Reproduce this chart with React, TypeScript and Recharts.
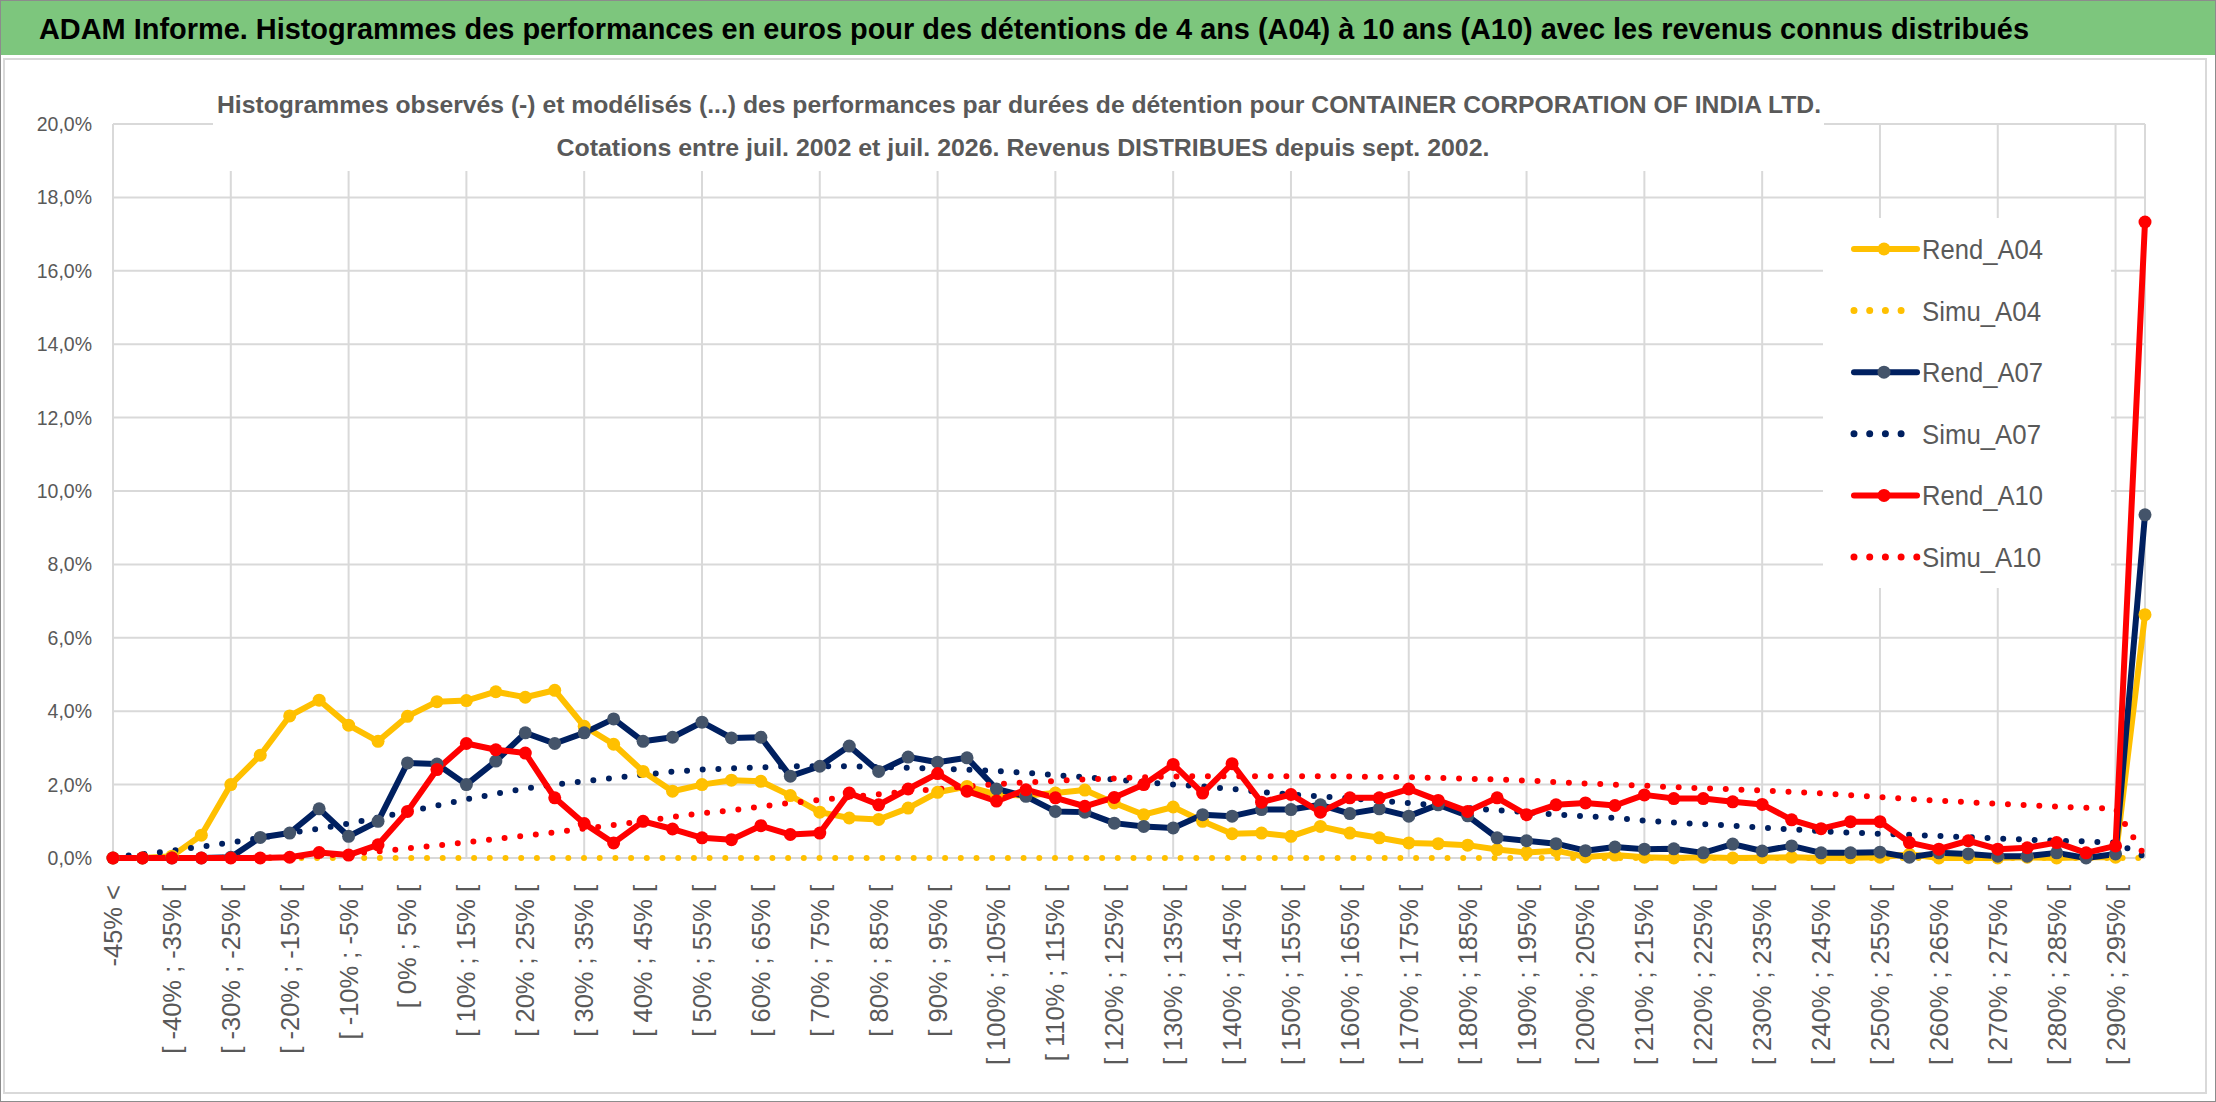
import React from 'react'
import { LineChart, Line, XAxis, YAxis, CartesianGrid } from 'recharts'

// bins of 5% from -45% to 295%, plus the two open-ended classes
const categories = [
  '-45% <', '[ -45% ; -40% [', '[ -40% ; -35% [', '[ -35% ; -30% [', '[ -30% ; -25% [',
  '[ -25% ; -20% [', '[ -20% ; -15% [', '[ -15% ; -10% [', '[ -10% ; -5% [', '[ -5% ; 0% [',
  '[ 0% ; 5% [', '[ 5% ; 10% [', '[ 10% ; 15% [', '[ 15% ; 20% [', '[ 20% ; 25% [',
  '[ 25% ; 30% [', '[ 30% ; 35% [', '[ 35% ; 40% [', '[ 40% ; 45% [', '[ 45% ; 50% [',
  '[ 50% ; 55% [', '[ 55% ; 60% [', '[ 60% ; 65% [', '[ 65% ; 70% [', '[ 70% ; 75% [',
  '[ 75% ; 80% [', '[ 80% ; 85% [', '[ 85% ; 90% [', '[ 90% ; 95% [', '[ 95% ; 100% [',
  '[ 100% ; 105% [', '[ 105% ; 110% [', '[ 110% ; 115% [', '[ 115% ; 120% [', '[ 120% ; 125% [',
  '[ 125% ; 130% [', '[ 130% ; 135% [', '[ 135% ; 140% [', '[ 140% ; 145% [', '[ 145% ; 150% [',
  '[ 150% ; 155% [', '[ 155% ; 160% [', '[ 160% ; 165% [', '[ 165% ; 170% [', '[ 170% ; 175% [',
  '[ 175% ; 180% [', '[ 180% ; 185% [', '[ 185% ; 190% [', '[ 190% ; 195% [', '[ 195% ; 200% [',
  '[ 200% ; 205% [', '[ 205% ; 210% [', '[ 210% ; 215% [', '[ 215% ; 220% [', '[ 220% ; 225% [',
  '[ 225% ; 230% [', '[ 230% ; 235% [', '[ 235% ; 240% [', '[ 240% ; 245% [', '[ 245% ; 250% [',
  '[ 250% ; 255% [', '[ 255% ; 260% [', '[ 260% ; 265% [', '[ 265% ; 270% [', '[ 270% ; 275% [',
  '[ 275% ; 280% [', '[ 280% ; 285% [', '[ 285% ; 290% [', '[ 290% ; 295% [', '> 295%',
]

// values in %
const rendA04 = [
  0, 0, 0.05, 0.62, 2.0, 2.8, 3.87, 4.3, 3.62, 3.18,
  3.86, 4.26, 4.29, 4.53, 4.38, 4.57, 3.59, 3.1, 2.36, 1.82,
  2.0, 2.12, 2.09, 1.7, 1.25, 1.09, 1.05, 1.36, 1.79, 1.95,
  1.73, 1.7, 1.77, 1.85, 1.5, 1.18, 1.39, 1.0, 0.66, 0.68,
  0.59, 0.86, 0.68, 0.55, 0.41, 0.39, 0.35, 0.23, 0.15, 0.2,
  0.03, 0.08, 0.02, 0, 0.02, 0, 0.01, 0.02, 0, 0.01,
  0.02, 0.1, 0, 0.01, 0, 0.02, 0, 0.02, 0.02, 6.63,
]
const simuA04 = [
  0, 0, 0, 0, 0, 0, 0, 0, 0, 0,
  0, 0, 0, 0, 0, 0, 0, 0, 0, 0,
  0, 0, 0, 0, 0, 0, 0, 0, 0, 0,
  0, 0, 0, 0, 0, 0, 0, 0, 0, 0,
  0, 0, 0, 0, 0, 0, 0, 0, 0, 0,
  0, 0, 0, 0, 0, 0, 0, 0, 0, 0,
  0, 0, 0, 0, 0, 0, 0, 0, 0, 0,
]
const rendA07 = [
  0, 0, 0, 0, 0.02, 0.56, 0.68, 1.34, 0.59, 1.0,
  2.59, 2.56, 2.0, 2.64, 3.41, 3.12, 3.41, 3.79, 3.18, 3.29,
  3.7, 3.27, 3.29, 2.23, 2.5, 3.05, 2.36, 2.75, 2.61, 2.73,
  1.88, 1.68, 1.27, 1.25, 0.95, 0.86, 0.82, 1.18, 1.14, 1.32,
  1.32, 1.45, 1.21, 1.34, 1.14, 1.45, 1.15, 0.55, 0.47, 0.39,
  0.2, 0.3, 0.24, 0.25, 0.14, 0.38, 0.19, 0.33, 0.14, 0.14,
  0.16, 0.02, 0.14, 0.11, 0.05, 0.05, 0.14, 0, 0.11, 9.35,
]
const simuA07 = [
  0.03, 0.1, 0.2, 0.31, 0.42, 0.55, 0.68, 0.8, 0.94, 1.1,
  1.26, 1.43, 1.6, 1.75, 1.89, 2.0, 2.09, 2.18, 2.27, 2.35,
  2.41, 2.44, 2.47, 2.5, 2.5, 2.5, 2.48, 2.46, 2.43, 2.41,
  2.37, 2.32, 2.26, 2.2, 2.14, 2.07, 2.0, 1.95, 1.88, 1.8,
  1.73, 1.68, 1.63, 1.56, 1.5, 1.43, 1.36, 1.3, 1.25, 1.18,
  1.14, 1.09, 1.02, 0.97, 0.92, 0.88, 0.83, 0.78, 0.73, 0.69,
  0.66, 0.63, 0.6, 0.57, 0.53, 0.5, 0.47, 0.45, 0.42, 0.03,
]
const rendA10 = [
  0, 0, 0, 0, 0, 0, 0.02, 0.15, 0.08, 0.36,
  1.27, 2.41, 3.12, 2.95, 2.86, 1.64, 0.94, 0.41, 1.0, 0.79,
  0.55, 0.5, 0.88, 0.64, 0.68, 1.77, 1.45, 1.88, 2.3, 1.82,
  1.55, 1.86, 1.64, 1.41, 1.65, 2.0, 2.55, 1.77, 2.57, 1.52,
  1.73, 1.25, 1.64, 1.64, 1.88, 1.57, 1.27, 1.64, 1.18, 1.45,
  1.5, 1.43, 1.72, 1.62, 1.62, 1.53, 1.46, 1.04, 0.8, 0.99,
  0.99, 0.42, 0.24, 0.47, 0.24, 0.28, 0.42, 0.14, 0.33, 17.33,
]
const simuA10 = [
  0, 0, 0, 0, 0.01, 0.01, 0.03, 0.06, 0.11, 0.18,
  0.26, 0.34, 0.43, 0.52, 0.61, 0.7, 0.8, 0.9, 1.0, 1.12,
  1.22, 1.3, 1.4, 1.5, 1.58, 1.66, 1.74, 1.81, 1.88, 1.95,
  2.01, 2.06, 2.1, 2.14, 2.17, 2.2, 2.22, 2.23, 2.23, 2.23,
  2.23, 2.23, 2.22, 2.21, 2.2, 2.18, 2.16, 2.14, 2.11, 2.07,
  2.03, 2.0, 1.97, 1.93, 1.9, 1.87, 1.84, 1.8, 1.76, 1.71,
  1.66, 1.61, 1.56, 1.52, 1.48, 1.44, 1.4, 1.37, 1.34, 0.05,
]

const yTicks = [0, 2, 4, 6, 8, 10, 12, 14, 16, 18, 20]

const title =
  'ADAM Informe. Histogrammes des performances en euros pour des détentions de 4 ans (A04) à 10 ans (A10) avec les revenus connus distribués'
const subtitle1 =
  'Histogrammes observés (-) et modélisés (...) des performances par durées de détention pour CONTAINER CORPORATION OF INDIA LTD.'
const subtitle2 = 'Cotations entre juil. 2002 et juil. 2026. Revenus DISTRIBUES depuis sept. 2002.'

const YELLOW = '#FFC000'
const NAVY = '#002060'
const NAVY_DOT = '#44546A'
const RED = '#FF0000'
const GREY = '#595959'
const SANS = '"Liberation Sans", Arial, sans-serif'

const series = [
  { key: 'Rend_A04', color: YELLOW, marker: YELLOW, dotted: false },
  { key: 'Simu_A04', color: YELLOW, marker: YELLOW, dotted: true },
  { key: 'Rend_A07', color: NAVY, marker: NAVY_DOT, dotted: false },
  { key: 'Simu_A07', color: NAVY, marker: NAVY_DOT, dotted: true },
  { key: 'Rend_A10', color: RED, marker: RED, dotted: false },
  { key: 'Simu_A10', color: RED, marker: RED, dotted: true },
]

const data = categories.map((cat, i) => ({
  cat,
  Rend_A04: rendA04[i],
  Simu_A04: simuA04[i],
  Rend_A07: rendA07[i],
  Simu_A07: simuA07[i],
  Rend_A10: rendA10[i],
  Simu_A10: simuA10[i],
}))

const fmtPct = (v: number) => v.toFixed(1).replace('.', ',') + '%'

function XTick({ x, y, payload }: any) {
  return (
    <g transform={`translate(${x},${y + 19})`}>
      <text
        transform="rotate(-90)"
        textAnchor="end"
        dominantBaseline="central"
        fill={GREY}
        fontSize={25.5}
        fontFamily={SANS}
      >
        {payload.value}
      </text>
    </g>
  )
}

// text squeezed to the width it has in the original (narrow Excel font)
function FitText({ x, y, width, anchor = 'start', children, ...rest }: any) {
  return (
    <text x={x} y={y} textLength={width} lengthAdjust="spacingAndGlyphs" textAnchor={anchor}
      fontFamily={SANS} {...rest}>
      {children}
    </text>
  )
}

function LegendSample({ color, marker, dotted, long, x, y }: any) {
  return dotted ? (
    <line x1={x} y1={y} x2={x + (long ? 63 : 48)} y2={y} stroke={color} strokeWidth={7}
      strokeDasharray="0 15.7" strokeLinecap="round" />
  ) : (
    <g>
      <line x1={x} y1={y} x2={x + 63} y2={y} stroke={color} strokeWidth={6} strokeLinecap="round" />
      <circle cx={x + 30} cy={y} r={6.5} fill={marker} />
    </g>
  )
}

export default function App() {
  return (
    <div style={{ position: 'absolute', left: 0, top: 0, width: 2216, height: 1102, background: '#fff',
      border: '1px solid #8c8c8c', boxSizing: 'border-box', overflow: 'hidden' }}>
      <div style={{ position: 'absolute', left: 0, top: 0, width: 2216, height: 54, background: '#7DC67D' }} />
      <div style={{ position: 'absolute', left: 2, top: 57, width: 2204, height: 1036,
        border: '2px solid #D9D9D9', boxSizing: 'border-box' }} />

      <div style={{ position: 'absolute', left: -1, top: -1 }}>
        <LineChart width={2216} height={1102} data={data}
          margin={{ top: 124, right: 71, left: 13, bottom: 24 }}>
          {/* vertical grid every 4 classes comes from this hidden axis */}
          <XAxis xAxisId="grid" dataKey="cat" interval={3} hide padding={{ left: 0, right: 0 }} />
          <CartesianGrid xAxisId="grid" stroke="#D9D9D9" strokeWidth={2} />
          <XAxis dataKey="cat" interval={1} height={220} tick={<XTick />} tickLine={false}
            axisLine={false} padding={{ left: 0, right: 0 }} />
          <YAxis domain={[0, 20]} ticks={yTicks} width={100} tickFormatter={fmtPct} tickLine={false}
            axisLine={false} tickMargin={15}
            tick={{ fill: GREY, fontSize: 19.5, fontFamily: SANS }} />
          {series.map((s) => (
            <Line key={s.key} dataKey={s.key} type="linear" stroke={s.color}
              strokeWidth={6}
              strokeDasharray={s.dotted ? '0 15.7' : undefined}
              strokeLinecap="round" strokeLinejoin="round"
              dot={s.dotted ? false : { r: 6.5, fill: s.marker, stroke: s.marker, strokeWidth: 0 }}
              activeDot={false} isAnimationActive={false} />
          ))}
        </LineChart>
      </div>

      {/* white boxes of the chart title and of the legend, laid over the grid */}
      <div style={{ position: 'absolute', left: 212, top: 78, width: 1611, height: 92, background: '#fff' }} />
      <div style={{ position: 'absolute', left: 1822, top: 217, width: 288, height: 370, background: '#fff' }} />

      <svg width={2216} height={1102} style={{ position: 'absolute', left: 0, top: 0, overflow: 'visible' }}>
        <FitText x={38} y={38} width={1990} fontSize={30} fontWeight={700} fill="#000">{title}</FitText>
        <FitText x={1018} y={112} width={1604} anchor="middle" fontSize={24} fontWeight={700} fill={GREY}>
          {subtitle1}
        </FitText>
        <FitText x={1022} y={155} width={933} anchor="middle" fontSize={24} fontWeight={700} fill={GREY}>
          {subtitle2}
        </FitText>
        {series.map((s, i) => {
          const cy = 248 + i * 61.6
          return (
            <g key={s.key}>
              <LegendSample color={s.color} marker={s.marker} dotted={s.dotted}
                long={s.key === 'Simu_A10'} x={1853} y={cy} />
              <FitText x={1921} y={cy + 10} width={s.dotted ? 119 : 121} fontSize={28} fill={GREY}>
                {s.key}
              </FitText>
            </g>
          )
        })}
      </svg>
    </div>
  )
}
